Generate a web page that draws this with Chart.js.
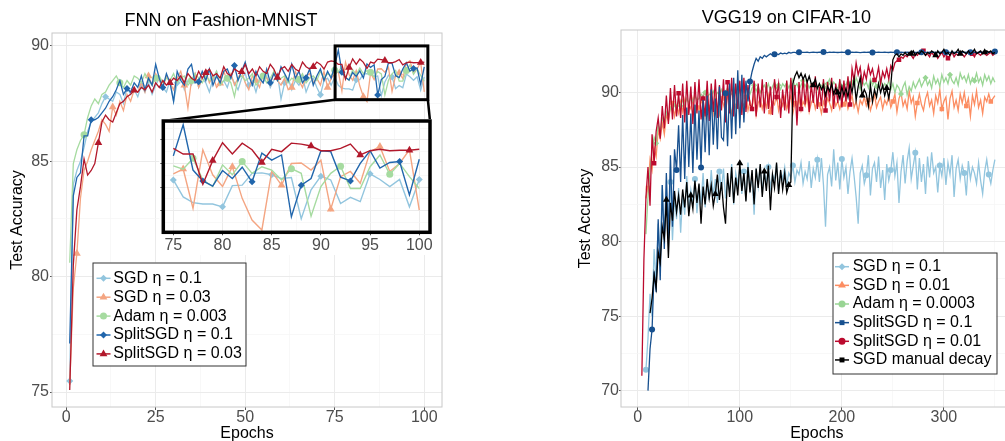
<!DOCTYPE html>
<html lang="en">
<head>
<meta charset="UTF-8">
<title>Test accuracy: FNN on Fashion-MNIST and VGG19 on CIFAR-10</title>
<script src="https://cdn.jsdelivr.net/npm/chart.js"></script>
<style>
  html, body { margin: 0; padding: 0; background: #fff; }
  #wrap { position: relative; width: 1005px; height: 441px; overflow: hidden; }
  canvas { position: absolute; }
  #fnn { left: 0; top: 0; }
  #inset { left: 150px; top: 110px; }
  #vgg { left: 560px; top: 0; }
</style>
</head>
<body>
<div id="wrap">
  <canvas id="fnn" width="492" height="441"></canvas>
  <canvas id="inset" width="290" height="145"></canvas>
  <canvas id="vgg" width="512" height="441"></canvas>
</div>
<script>
// ---------- FNN on Fashion-MNIST (epochs 1..100) ----------
const fnnEpochs = Array.from({length: 100}, (_, i) => i + 1);
const fnnNames = ['SGD η = 0.1', 'SGD η = 0.03', 'Adam η = 0.003', 'SplitSGD η = 0.1', 'SplitSGD η = 0.03'];

const fnnSgd01 = [
  75.48, 84.0, 84.6, 85.0, 85.6, 86.3, 86.7, 86.9, 87.1, 87.5, 87.8, 87.7, 87.6, 88.0, 87.9,
  87.5, 88.2, 87.9, 88.1, 87.8, 88.3, 88.0, 88.4, 87.9, 88.3, 88.6, 88.2, 88.0, 88.5, 87.6,
  88.4, 88.7, 88.1, 88.5, 88.3, 88.8, 88.2, 88.6, 88.4, 88.0, 88.6, 88.9, 88.3, 88.5, 88.2,
  88.7, 88.4, 88.1, 88.6, 88.8, 88.3, 88.5, 88.0, 88.6, 88.4, 88.7, 88.2, 88.5, 88.8, 87.7,
  88.4, 88.6, 88.1, 88.5, 88.3, 88.7, 88.0, 88.4, 88.6, 88.2, 87.88, 88.5, 88.6, 88.3,
  88.65, 88.29, 88.17, 88.14, 88.14, 88.08, 88.53, 88.54, 88.79, 88.80, 88.76, 88.68, 88.70,
  87.83, 88.44, 88.73, 88.65, 88.15, 88.28, 88.19, 88.78, 88.66, 88.51, 88.66, 88.08, 88.66
];
const fnnSgd003 = [
  75.3, 79.5, 81.0, 83.4, 84.6, 85.0, 85.5, 85.9, 86.3, 86.8, 86.6, 86.3, 87.35, 87.0, 87.6,
  87.2, 87.9, 87.6, 88.1, 88.0, 88.4, 88.0, 88.7, 88.3, 88.8, 88.5, 88.2, 88.7, 88.4, 88.1,
  88.6, 88.9, 88.3, 87.3, 88.5, 88.8, 88.2, 88.6, 88.9, 88.4, 88.7, 88.2, 88.38, 88.9, 88.5,
  88.8, 88.3, 88.6, 88.9, 88.4, 88.1, 88.7, 88.5, 88.2, 88.8, 88.6, 88.3, 88.9, 88.5, 88.3,
  88.6, 88.1, 88.2, 88.9, 88.5, 88.2, 88.7, 88.8, 88.4, 88.6, 88.3, 88.9, 88.2, 88.6,
  88.78, 88.88, 88.05, 89.29, 88.76, 88.51, 88.93, 88.26, 87.80, 87.59, 88.83, 88.54, 89.00,
  89.01, 88.86, 89.07, 88.03, 88.72, 88.83, 88.58, 89.25, 89.36, 88.83, 89.00, 89.29, 88.01
];
const fnnAdam = [
  80.6, 84.9, 85.5, 85.9, 86.15, 86.9, 87.4, 87.7, 87.5, 87.9, 88.0, 88.3, 88.5, 88.7, 88.4,
  88.2, 88.5, 88.3, 88.7, 88.6, 88.4, 88.8, 88.5, 88.3, 88.6, 88.7, 88.4, 88.6, 88.5, 88.8,
  88.4, 88.6, 88.7, 88.3, 88.5, 88.8, 88.6, 88.4, 88.7, 88.5, 88.6, 88.9, 88.3, 88.5, 88.6,
  88.4, 87.8, 88.6, 88.7, 88.5, 88.6, 88.8, 88.3, 88.5, 88.7, 88.4, 88.6, 88.9, 88.5, 88.6,
  88.7, 88.4, 88.6, 88.5, 88.55, 88.8, 88.4, 88.6, 88.7, 88.5, 88.9, 88.6, 88.8, 88.7,
  88.95, 88.88, 89.11, 88.65, 88.51, 88.97, 88.76, 89.04, 88.79, 88.93, 88.86, 88.65, 88.89,
  88.79, 87.88, 88.51, 88.79, 88.94, 88.47, 88.47, 88.93, 89.18, 88.77, 89.00, 88.72, 88.47
];
const fnnSplit01 = [
  77.1, 83.5, 84.3, 84.5, 86.1, 86.1, 86.8, 86.8, 86.9, 87.1, 87.3, 87.6, 87.8, 88.1, 88.5,
  87.9, 88.15, 88.0, 88.4, 88.2, 88.7, 88.1, 88.6, 88.3, 89.2, 88.6, 88.2, 88.8, 88.4, 87.6,
  88.9, 88.5, 88.3, 89.0, 89.2, 88.4, 88.45, 88.9, 88.5, 89.0, 88.3, 88.7, 88.4, 88.9, 89.0,
  88.6, 89.15, 88.5, 88.9, 89.3, 88.7, 88.3, 88.9, 88.6, 88.4, 89.0, 88.4, 88.8, 88.5, 89.1,
  88.8, 88.5, 89.2, 88.6, 88.9, 88.4, 88.62, 89.0, 88.3, 88.7, 89.0, 88.5, 88.9, 88.6,
  89.16, 89.82, 88.86, 88.63, 88.52, 88.85, 88.68, 88.92, 88.61, 89.22, 89.07, 89.18, 87.87,
  88.54, 88.68, 89.27, 89.25, 88.71, 88.63, 89.00, 89.27, 88.90, 89.02, 89.04, 88.33, 89.09
];
const fnnSplit003 = [
  75.09, 80.5, 82.9, 83.9, 85.1, 84.4, 84.6, 84.9, 85.8, 86.7, 87.0, 86.8, 86.7, 87.1, 87.5,
  87.6, 87.8, 87.9, 88.08, 88.0, 88.2, 88.1, 88.3, 88.0, 88.4, 88.2, 88.5, 88.3, 88.4, 88.6,
  88.5, 88.7, 88.4, 88.8, 88.6, 88.5, 88.9, 88.6, 88.84, 89.0, 88.7, 88.8, 88.6, 89.1, 88.8,
  88.7, 89.0, 88.9, 88.88, 89.2, 88.8, 89.0, 88.7, 89.1, 88.9, 88.8, 89.2, 89.0, 88.63, 89.0,
  89.1, 88.9, 89.2, 89.0, 88.9, 89.3, 89.1, 89.0, 89.1, 89.3, 89.2, 89.0, 89.3, 89.35,
  89.32, 89.20, 89.20, 88.56, 89.06, 89.44, 89.20, 89.43, 89.29, 89.02, 89.30, 89.25, 89.43,
  89.41, 89.37, 89.27, 89.27, 89.32, 89.41, 89.18, 89.27, 89.30, 89.27, 89.28, 89.28, 89.30
];
const fnnXTicks = [0, 25, 50, 75, 100];
const fnnYTicks = [75, 80, 85, 90];
const insetXTicks = [75, 80, 85, 90, 95, 100];
const insetYTicks = [88, 88.5, 89, 89.5];

// ---------- VGG19 on CIFAR-10 (every 2nd epoch, 4..350) ----------
const vggEpochs = Array.from({length: 174}, (_, i) => 4 + 2 * i);
const vggNames = ['SGD η = 0.1', 'SGD η = 0.01', 'Adam η = 0.0003', 'SplitSGD η = 0.1', 'SplitSGD η = 0.01', 'SGD manual decay'];

const vggSgd01 = [
  null, null, 71.4, 73.5, 76.5, 75.0, 79.5, 77.2, 81.2, 79.0,
  83.8, 80.4, 82.6, 81.0, 84.0, 80.1, 83.0, 81.5, 83.6, 80.6,
  83.2, 81.8, 84.4, 82.0, 83.5, 82.7, 84.2, 81.9, 83.8, 82.5,
  84.6, 82.3, 83.9, 82.8, 84.8, 83.0, 84.2, 82.6, 84.7, 83.4,
  84.9, 82.9, 84.1, 83.3, 85.2, 82.5, 84.6, 83.8, 85.0, 83.2,
  84.7, 82.8, 85.3, 83.5, 84.4, 81.8, 84.9, 83.7, 85.1, 83.3,
  84.8, 83.9, 85.0, 83.6, 84.5, 84.1, 85.2, 83.4, 84.7, 84.2,
  85.0, 83.8, 84.6, 84.3, 85.1, 84.0, 84.8, 84.5, 85.3, 83.9,
  84.7, 84.2, 85.4, 83.6, 84.9, 84.3, 85.5, 84.0, 85.6, 83.8,
  81.0, 84.5, 85.0, 83.7, 86.2, 84.1, 85.3, 83.5, 85.55, 84.3,
  85.0, 83.2, 84.7, 85.6, 84.4, 83.0, 81.2, 84.6, 85.1, 83.9,
  84.45, 85.8, 83.1, 84.9, 85.3, 84.0, 85.7, 83.6, 84.8, 82.8,
  85.2, 84.1, 84.8, 86.0, 84.4, 85.3, 82.6, 84.7, 85.8, 83.9,
  85.4, 86.3, 84.2, 85.1, 85.97, 83.5, 85.6, 84.0, 85.2, 83.2,
  85.7, 84.3, 86.0, 84.6, 85.0, 83.3, 85.1, 84.4, 85.6, 83.8,
  85.3, 84.5, 85.8, 83.0, 84.9, 85.5, 84.2, 85.1, 84.6, 83.1,
  85.4, 84.2, 85.0, 84.6, 83.9, 85.3, 84.1, 83.2, 84.7, 85.5,
  84.5, 83.9, 84.8, 85.5
];
const vggSgd001 = [
  null, null, 82.9, 83.6, 85.5, 84.8, 86.3, 85.7, 87.5, 86.9,
  88.0, 87.2, 88.5, 88.1, 89.0, 89.3, 88.4, 89.1, 88.6, 89.4,
  88.7, 89.5, 88.3, 89.2, 88.9, 89.6, 88.5, 89.0, 88.8, 89.5,
  89.1, 88.4, 89.7, 88.9, 89.4, 88.6, 89.8, 89.0, 88.5, 89.6,
  89.2, 88.7, 89.9, 89.1, 88.6, 89.5, 89.0, 89.8, 88.3, 89.4,
  89.1, 89.7, 88.8, 89.4, 89.0, 89.9, 88.5, 89.3, 89.6, 88.9,
  89.5, 89.0, 89.8, 88.7, 89.4, 89.2, 89.9, 88.8, 89.5, 89.1,
  89.7, 88.9, 89.4, 89.8, 88.6, 89.3, 89.0, 89.6, 88.8, 89.4,
  89.1, 89.7, 88.7, 89.3, 89.6, 88.9, 89.5, 89.2, 88.6, 89.4,
  89.0, 89.6, 89.3, 88.8, 89.7, 89.1, 89.4, 88.9, 89.5, 89.2,
  89.6, 88.9, 89.3, 89.8, 89.0, 89.4, 88.7, 89.5, 89.2, 89.7,
  89.1, 89.5, 88.8, 89.3, 89.9, 89.0, 89.4, 89.7, 88.9, 89.5,
  89.2, 89.8, 89.0, 89.4, 89.9, 88.7, 89.6, 90.0, 89.1, 89.5,
  88.9, 90.1, 89.3, 89.7, 88.4, 89.3, 89.9, 89.2, 88.8, 89.6,
  90.0, 89.1, 89.5, 88.6, 89.8, 89.3, 90.2, 88.9, 89.4, 89.7,
  88.2, 89.6, 90.1, 89.0, 89.5, 88.8, 89.9, 89.3, 90.0, 89.1,
  89.6, 88.4, 89.8, 89.2, 90.1, 89.0, 89.5, 88.6, 89.7, 89.4,
  89.9, 89.4, 89.6, 89.8
];
const vggAdam = [
  null, null, 80.5, 83.0, 84.8, 86.2, 87.0, 86.6, 87.8, 87.4,
  88.3, 88.0, 88.7, 88.4, 89.0, 88.8, 89.2, 88.9, 89.4, 89.1,
  89.5, 89.2, 89.6, 89.3, 89.7, 89.4, 89.8, 89.5, 89.6, 89.9,
  89.7, 90.0, 89.6, 89.9, 89.8, 90.1, 89.7, 90.0, 89.9, 90.2,
  89.8, 90.1, 90.3, 89.9, 90.2, 90.0, 90.4, 89.8, 90.1, 90.3,
  90.0, 90.4, 90.2, 89.9, 90.3, 90.5, 90.1, 90.4, 90.0, 90.3,
  90.5, 90.2, 90.6, 90.1, 90.4, 90.7, 90.3, 90.5, 90.2, 90.6,
  90.4, 90.7, 90.3, 90.6, 90.9, 90.4, 90.6, 90.2, 90.5, 90.8,
  90.4, 90.7, 90.3, 90.6, 90.5, 90.8, 90.2, 90.6, 90.4, 90.7,
  90.3, 90.6, 90.9, 90.4, 90.7, 90.5, 90.2, 90.8, 90.4, 90.6,
  90.5, 90.9, 90.3, 90.7, 90.4, 91.0, 90.6, 90.2, 90.8, 90.5,
  90.7, 90.3, 90.9, 90.5, 90.8, 90.4, 90.6, 91.0, 90.3, 90.6,
  90.4, 90.8, 90.2, 90.6, 90.0, 90.5, 90.3, 89.9, 90.4, 90.7,
  89.85, 90.4, 90.1, 90.7, 90.3, 90.6, 90.9, 90.4, 90.7, 91.0,
  90.5, 90.8, 90.3, 91.1, 90.6, 90.9, 90.4, 91.2, 90.7, 91.0,
  90.6, 91.2, 90.8, 90.6, 91.0, 90.5, 91.3, 90.9, 91.1, 90.7,
  91.2, 90.6, 91.0, 90.8, 91.3, 90.7, 91.0, 90.5, 91.2, 90.8,
  91.1, 90.6, 91.0, 90.7
];
const vggSplit01 = [
  null, null, null, 70.0, 72.8, 74.1, 78.0, 76.6, 81.5, 77.4,
  83.8, 79.5, 84.6, 80.2, 85.8, 81.0, 86.2, 84.8, 87.8, 84.0,
  88.5, 84.2, 89.0, 85.0, 88.6, 84.6, 89.2, 85.5, 88.8, 84.97,
  89.5, 86.0, 89.8, 85.8, 90.2, 86.5, 89.6, 86.2, 90.4, 87.0,
  86.8, 89.96, 86.4, 90.6, 86.9, 91.0, 87.2, 91.5, 87.6, 91.2,
  88.0, 90.8, 89.4, 90.74, 91.4, 91.9, 92.3, 92.1, 92.4, 92.3,
  92.5, 92.4, 92.5, 92.6, 92.5, 92.58, 92.6, 92.55, 92.65, 92.6,
  92.65, 92.6, 92.7, 92.65, 92.7, 92.7, 92.65, 92.7, 92.72, 92.7,
  92.7, 92.72, 92.68, 92.7, 92.72, 92.7, 92.69, 92.71, 92.7, 92.72,
  92.7, 92.68, 92.71, 92.7, 92.72, 92.7, 92.69, 92.7, 92.71, 92.7,
  92.72, 92.7, 92.69, 92.71, 92.7, 92.72, 92.7, 92.68, 92.7, 92.71,
  92.7, 92.72, 92.7, 92.69, 92.71, 92.7, 92.72, 92.7, 92.7, 92.71,
  92.7, 92.69, 92.71, 92.7, 92.72, 92.7, 92.7, 92.71, 92.69, 92.7,
  92.72, 92.7, 92.71, 92.7, 92.69, 92.7, 92.72, 92.7, 92.71, 92.7,
  92.7, 92.71, 92.7, 92.72, 92.7, 92.69, 92.71, 92.7, 92.72, 92.7,
  92.71, 92.7, 92.69, 92.7, 92.72, 92.7, 92.71, 92.7, 92.7, 92.72,
  92.7, 92.71, 92.7, 92.72, 92.7, 92.69, 92.7, 92.71, 92.7, 92.72,
  92.7, 92.72, 92.71, 92.75
];
const vggSplit001 = [
  71.0, 78.8, 83.0, 85.0, 82.4, 87.2, 85.26, 87.4, 88.3, 86.9,
  89.1, 87.6, 89.8, 87.9, 90.3, 88.2, 90.5, 88.4, 89.96, 88.3,
  90.6, 88.0, 90.8, 88.5, 90.4, 87.9, 90.7, 88.6, 90.9, 88.2,
  89.6, 88.4, 90.8, 88.1, 90.6, 88.7, 90.9, 88.3, 90.5, 88.8,
  90.9, 88.0, 90.7, 88.6, 91.0, 88.4, 90.6, 88.9, 90.8, 88.5,
  91.0, 88.7, 90.5, 89.2, 88.9, 90.8, 88.4, 90.6, 89.0, 90.9,
  88.6, 90.7, 88.9, 90.4, 88.5, 90.9, 89.7, 90.6, 88.3, 90.2,
  88.8, 90.8, 88.6, 91.0, 89.0, 90.5, 87.8, 90.7, 88.9, 91.0,
  89.2, 90.8, 88.7, 90.6, 89.3, 91.1, 88.9, 90.4, 89.1, 90.9,
  88.8, 90.7, 89.4, 91.0, 88.9, 90.6, 89.3, 90.9, 89.0, 90.8,
  89.4, 91.1, 89.2, 91.6, 90.8, 92.0, 91.2, 91.7, 90.6, 91.4,
  90.9, 91.8, 91.2, 91.6, 90.85, 91.0, 91.7, 90.6, 91.4, 91.0,
  91.6, 90.9, 91.8, 91.5, 92.0, 92.13, 92.2, 92.4, 92.3, 92.5,
  92.4, 92.6, 92.5, 92.3, 92.6, 92.5, 92.7, 92.6, 92.8, 92.5,
  92.6, 92.4, 92.7, 92.5, 92.6, 92.3, 92.5, 92.7, 92.4, 92.6,
  92.3, 92.5, 92.7, 92.4, 92.6, 92.5, 92.7, 92.6, 92.4, 92.6,
  92.7, 92.5, 92.6, 92.4, 92.7, 92.6, 92.5, 92.7, 92.6, 92.5,
  92.6, 92.7, 92.5, 92.6
];
const vggManual = [
  null, null, null, null, 75.2, 76.2, 77.8, 76.9, 79.3, 78.6,
  81.0, 80.2, 82.8, 78.9, 82.6, 81.4, 83.4, 82.0, 83.1, 81.8,
  83.5, 82.3, 84.0, 81.7, 83.1, 82.2, 84.1, 82.6, 83.9, 81.2,
  83.7, 82.5, 84.2, 82.9, 83.8, 82.4, 83.2, 84.5, 82.8, 84.0,
  82.3, 81.2, 84.6, 83.0, 85.0, 82.6, 84.3, 83.1, 85.25, 83.4,
  84.6, 82.7, 85.0, 83.3, 84.8, 82.5, 84.9, 83.6, 85.2, 83.0,
  84.7, 83.4, 85.1, 82.1, 84.5, 83.6, 85.3, 83.2, 84.8, 83.5,
  84.6, 83.3, 83.8, 84.0, 90.6, 91.1, 91.4, 91.0, 91.3, 90.9,
  91.2, 90.7, 91.1, 90.6, 90.5, 90.9, 90.3, 90.6, 90.2, 90.5,
  89.8, 90.4, 90.1, 90.6, 89.9, 90.3, 90.0, 89.6, 90.4, 89.8,
  90.3, 89.7, 90.6, 90.0, 90.9, 89.5, 90.4, 91.0, 89.8, 90.2,
  89.9, 89.1, 90.5, 89.4, 90.2, 89.7, 90.6, 90.0, 90.5, 89.8,
  90.3, 89.6, 90.5, 92.2, 92.5, 92.6, 92.4, 92.6, 92.5, 92.7,
  92.5, 92.7, 92.6, 92.8, 92.5, 92.7, 92.6, 92.8, 92.7, 92.5,
  92.7, 92.6, 92.8, 92.7, 92.5, 92.8, 92.6, 92.7, 92.9, 92.6,
  92.7, 92.5, 92.8, 92.6, 92.7, 92.9, 92.6, 92.8, 92.7, 92.6,
  92.8, 92.6, 92.7, 92.9, 92.6, 92.7, 92.8, 92.6, 92.7, 92.8,
  92.7, 92.8, 92.6, 92.7
];
const vggXTicks = [0, 100, 200, 300];
const vggYTicks = [70, 75, 80, 85, 90];

// ---------- styles ----------
Chart.defaults.font.family = '"Liberation Sans", Arial, sans-serif';
Chart.defaults.color = '#4d4d4d';

const fnnStyle = [
  {color: '#92c5de', mark: 'rectRot', r: 3.5, legendMark: 'rectRot', order: 4},
  {color: '#f4a582', mark: 'triangle', r: 4.5, legendMark: 'triangle', order: 3},
  {color: '#a6dba0', mark: 'circle', r: 3.5, legendMark: 'circle', order: 2},
  {color: '#2166ac', mark: 'rectRot', r: 3.5, legendMark: 'rectRot', order: 1},
  {color: '#b2182b', mark: 'triangle', r: 4.5, legendMark: 'triangle', order: 0}
];
const vggStyle = [
  {color: '#92c5de', mark: 'circle', r: 3, legendMark: 'rectRot', order: 5},
  {color: '#fc8d62', mark: 'rect', r: 3.2, legendMark: 'triangle', order: 4},
  {color: '#99d594', mark: 'rectRot', r: 3, legendMark: 'circle', order: 3},
  {color: '#17508f', mark: 'circle', r: 3, legendMark: 'rect', order: 1},
  {color: '#bb0a2e', mark: 'rect', r: 3.2, legendMark: 'circle', order: 2},
  {color: '#000000', mark: 'triangle', r: 4, legendMark: 'rect', order: 0}
];

function withMinors(majors, step) {
  const out = majors.slice();
  majors.forEach(v => out.push(v + step / 2));
  out.push(majors[0] - step / 2);
  return out.sort((a, b) => a - b);
}

function scaleOpts(o) {
  const all = withMinors(o.majors, o.step);
  const isMajor = v => o.majors.includes(v);
  return {
    type: 'linear',
    min: o.min,
    max: o.max,
    afterBuildTicks: s => { s.ticks = all.filter(v => v >= s.min && v <= s.max).map(v => ({value: v})); },
    afterFit: s => {
      if (o.width != null) s.width = o.width;
      if (o.height != null) s.height = o.height;
    },
    ticks: {
      display: o.labels !== false,
      callback: v => isMajor(v) ? String(v) : '',
      autoSkip: false,
      maxRotation: 0,
      padding: o.pad,
      color: '#4d4d4d',
      font: {size: 16}
    },
    grid: {
      color: c => (c.tick && isMajor(c.tick.value)) ? '#ebebeb' : '#f5f5f5',
      lineWidth: c => (c.tick && isMajor(c.tick.value)) ? 1 : 0.7,
      tickColor: c => (c.tick && isMajor(c.tick.value)) ? '#555' : 'rgba(0,0,0,0)',
      tickLength: o.tick,
      drawTicks: true
    },
    border: {display: false},
    title: o.title
      ? {display: true, text: o.title, color: '#000', font: {size: 16}, padding: o.titlePad}
      : {display: false}
  };
}

function buildSets(xs, valueLists, styles, isMark, width) {
  return valueLists.map((vals, k) => ({
    data: vals.map((v, i) => ({x: xs[i], y: v})),
    borderColor: styles[k].color,
    backgroundColor: styles[k].color,
    borderWidth: width,
    tension: 0,
    order: styles[k].order,
    pointStyle: styles[k].mark,
    pointRadius: c => isMark(c.dataIndex, k) ? styles[k].r : 0,
    pointBorderWidth: 0,
    pointBackgroundColor: styles[k].color
  }));
}

const panelBorder = {
  id: 'panelBorder',
  afterDatasetsDraw(chart, args, o) {
    const a = chart.chartArea, ctx = chart.ctx;
    ctx.save();
    ctx.strokeStyle = o.color;
    ctx.lineWidth = o.width;
    ctx.strokeRect(a.left, a.top, a.right - a.left, a.bottom - a.top);
    ctx.restore();
  }
};

const boxLegend = {
  id: 'boxLegend',
  afterDraw(chart, args, o) {
    const ctx = chart.ctx;
    ctx.save();
    ctx.fillStyle = '#fff';
    ctx.fillRect(o.x, o.y, o.w, o.h);
    ctx.strokeStyle = '#333';
    ctx.lineWidth = 1;
    ctx.strokeRect(o.x + 0.5, o.y + 0.5, o.w, o.h);
    o.items.forEach((it, i) => {
      const y = o.y + o.first + i * o.step;
      ctx.strokeStyle = it.color;
      ctx.lineWidth = 1.5;
      ctx.beginPath();
      ctx.moveTo(o.x + o.l0, y);
      ctx.lineTo(o.x + o.l1, y);
      ctx.stroke();
      ctx.fillStyle = it.color;
      Chart.helpers.drawPoint(ctx, {pointStyle: it.mark, radius: it.r, borderWidth: 0, rotation: 0},
        o.x + (o.l0 + o.l1) / 2, y);
      ctx.fillStyle = '#000';
      ctx.font = '16px "Liberation Sans", Arial, sans-serif';
      ctx.textBaseline = 'middle';
      ctx.textAlign = 'left';
      ctx.fillText(it.label, o.x + o.tx, y);
    });
    ctx.restore();
  }
};

// inset box position on the page (left chart canvas starts at 0,0)
const INSET_BOX = {left: 163.3, top: 121, right: 430, bottom: 232.3};

const zoomMark = {
  id: 'zoomMark',
  afterDatasetsDraw(chart, args, o) {
    const xs = chart.scales.x, ys = chart.scales.y, ctx = chart.ctx;
    const l = xs.getPixelForValue(o.x0), r = xs.getPixelForValue(o.x1);
    const t = ys.getPixelForValue(o.y1), b = ys.getPixelForValue(o.y0);
    ctx.save();
    ctx.strokeStyle = '#000';
    ctx.lineWidth = 3;
    ctx.strokeRect(l, t, r - l, b - t);
    ctx.lineWidth = 2.5;
    ctx.beginPath();
    ctx.moveTo(l, b); ctx.lineTo(INSET_BOX.left, INSET_BOX.top);
    ctx.moveTo(r, b); ctx.lineTo(INSET_BOX.right, INSET_BOX.top);
    ctx.stroke();
    ctx.restore();
  }
};

const insetFrame = {
  id: 'insetFrame',
  beforeDraw(chart) {
    const a = chart.chartArea, ctx = chart.ctx;
    ctx.save();
    ctx.fillStyle = '#fff';
    ctx.fillRect(a.left - 4, a.top - 2, chart.width, chart.height);
    ctx.restore();
  },
  afterDatasetsDraw(chart) {
    const a = chart.chartArea, ctx = chart.ctx;
    ctx.save();
    ctx.strokeStyle = '#000';
    ctx.lineWidth = 3.5;
    ctx.strokeRect(a.left, a.top, a.right - a.left, a.bottom - a.top);
    ctx.restore();
  }
};

const common = {
  responsive: false,
  animation: false,
  events: []
};

// ---------- left chart ----------
const fnnValues = [fnnSgd01, fnnSgd003, fnnAdam, fnnSplit01, fnnSplit003];

new Chart(document.getElementById('fnn'), {
  type: 'line',
  data: {datasets: buildSets(fnnEpochs, fnnValues, fnnStyle, (i, k) => i >= 2 * k && (i - 2 * k) % 10 === 0, 1.3)},
  options: Object.assign({}, common, {
    layout: {padding: {left: 0, right: 50, top: 0, bottom: 0}},
    plugins: {
      legend: {display: false},
      tooltip: {enabled: false},
      title: {display: true, text: 'FNN on Fashion-MNIST', color: '#000', font: {size: 18, weight: 'normal'},
              padding: {top: 10.4, bottom: 1}},
      panelBorder: {color: '#c8c8c8', width: 1},
      zoomMark: {x0: 75.1, x1: 101, y0: 87.67, y1: 90.0},
      boxLegend: {
        x: 92.5, y: 262.5, w: 153, h: 103, first: 15.8, step: 18.9, l0: 4, l1: 18, tx: 20.8,
        items: fnnNames.map((n, k) => ({label: n, color: fnnStyle[k].color, mark: fnnStyle[k].legendMark, r: fnnStyle[k].mark === 'triangle' ? 4.5 : 3.5}))
      }
    },
    scales: {
      x: scaleOpts({majors: fnnXTicks, step: 25, min: -3.95, max: 104.95, height: 34, tick: 3, pad: -2,
                    title: 'Epochs', titlePad: {top: 0, bottom: -2}}),
      y: scaleOpts({majors: fnnYTicks, step: 5, min: 74.35, max: 90.56, width: 52, tick: 2, pad: 1,
                    title: 'Test Accuracy', titlePad: {top: 8, bottom: 0}})
    }
  }),
  plugins: [panelBorder, zoomMark, boxLegend]
});

// ---------- inset (epochs 75..100) ----------
new Chart(document.getElementById('inset'), {
  type: 'line',
  data: {datasets: buildSets(fnnEpochs.slice(74), fnnValues.map(v => v.slice(74)), fnnStyle,
                              (i, k) => i >= k && (i - k) % 5 === 0, 1.4)},
  options: Object.assign({}, common, {
    layout: {padding: {left: 0, right: 10, top: 11, bottom: 0}},
    plugins: {legend: {display: false}, tooltip: {enabled: false}},
    scales: {
      x: scaleOpts({majors: insetXTicks, step: 5, min: 73.98, max: 101.09, height: 22.7, tick: 3, pad: 1}),
      y: scaleOpts({majors: insetYTicks, step: 0.5, min: 87.54, max: 89.9, width: 13.3, tick: 3, pad: 0, labels: false})
    }
  }),
  plugins: [insetFrame]
});

// ---------- right chart ----------
const vggValues = [vggSgd01, vggSgd001, vggAdam, vggSplit01, vggSplit001, vggManual];
const vggMarkOffset = [2, 3, 7, 5, 6, 0];

new Chart(document.getElementById('vgg'), {
  type: 'line',
  data: {datasets: buildSets(vggEpochs, vggValues, vggStyle, (i, k) => i % 12 === vggMarkOffset[k], 1.3)},
  options: Object.assign({}, common, {
    layout: {padding: {left: 0, right: 59.3, top: 0, bottom: 0}},
    plugins: {
      legend: {display: false},
      tooltip: {enabled: false},
      title: {display: true, text: 'VGG19 on CIFAR-10', color: '#000', font: {size: 18, weight: 'normal'},
              padding: {top: 7.4, bottom: 1}},
      panelBorder: {color: '#c8c8c8', width: 1},
      boxLegend: {
        x: 272.5, y: 252.5, w: 164, h: 121, first: 14.2, step: 18.65, l0: 2.5, l1: 16.5, tx: 20.2,
        items: vggNames.map((n, k) => ({label: n, color: vggStyle[k].color, mark: vggStyle[k].legendMark, r: vggStyle[k].legendMark === 'triangle' ? 4.5 : 3.5}))
      }
    },
    scales: {
      x: scaleOpts({majors: vggXTicks, step: 100, min: -16.45, max: 367.45, height: 34, tick: 3, pad: -2,
                    title: 'Epochs', titlePad: {top: 0, bottom: -2}}),
      y: scaleOpts({majors: vggYTicks, step: 5, min: 68.9, max: 94.2, width: 61, tick: 2, pad: 0,
                    title: 'Test Accuracy', titlePad: {top: 16, bottom: 0}})
    }
  }),
  plugins: [panelBorder, boxLegend]
});
</script>
</body>
</html>
